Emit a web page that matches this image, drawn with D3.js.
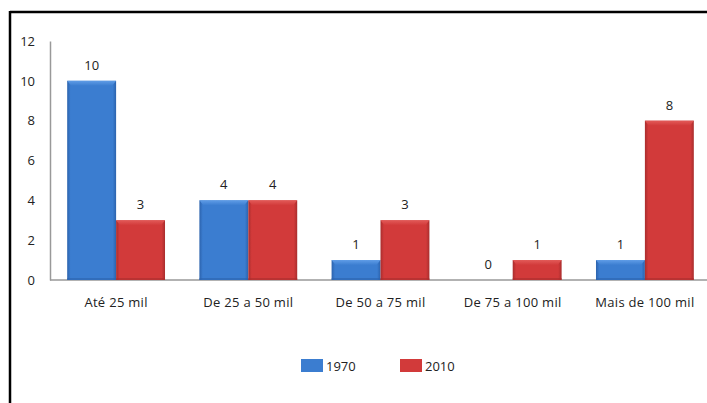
<!DOCTYPE html>
<html>
<head>
<meta charset="utf-8">
<script src="https://cdn.jsdelivr.net/npm/d3@7"></script>
<style>
  html, body { margin: 0; padding: 0; background: #fff; }
  svg { display: block; }
  text { font-family: "Open Sans", "Noto Sans", sans-serif; fill: #222; }
</style>
</head>
<body>
<svg id="chart" width="707" height="403"></svg>
<script>
// Faixas de população e número de municípios em cada ano
const categories = ["Até 25 mil", "De 25 a 50 mil", "De 50 a 75 mil", "De 75 a 100 mil", "Mais de 100 mil"];
const seriesNames = ["1970", "2010"];
const values1970 = [10, 4, 1, 0, 1];
const values2010 = [3, 4, 3, 1, 8];
const yTicks = [0, 2, 4, 6, 8, 10, 12];

const colors = {
  "1970": { base: "#3b7dd0", light: "#5f9ce6", dark: "#2c63ad" },
  "2010": { base: "#d23a3a", light: "#e25a58", dark: "#a92d2d" }
};

const svg = d3.select("#chart");
const W = 707, H = 403;

// Moldura: traço superior e esquerdo
svg.append("line").attr("x1", 10).attr("x2", W).attr("y1", 12).attr("y2", 12)
  .attr("stroke", "#000").attr("stroke-width", 2.5);
svg.append("line").attr("x1", 10).attr("x2", 10).attr("y1", 11).attr("y2", H)
  .attr("stroke", "#000").attr("stroke-width", 2.5);

const plot = { left: 50, right: 711, top: 41, bottom: 280 };

const x0 = d3.scaleBand().domain(categories).range([plot.left, plot.right]).paddingInner(0.26).paddingOuter(0.13);
const x1 = d3.scaleBand().domain(seriesNames).range([0, x0.bandwidth()]);
const y = d3.scaleLinear().domain([0, 12]).range([plot.bottom, plot.top]);

// Gradientes para o efeito de relevo das barras
const defs = svg.append("defs");
seriesNames.forEach(s => {
  const c = colors[s];
  const g = defs.append("linearGradient").attr("id", "grad-" + s).attr("x1", 0).attr("x2", 1).attr("y1", 0).attr("y2", 0);
  g.append("stop").attr("offset", "0%").attr("stop-color", c.dark);
  g.append("stop").attr("offset", "7%").attr("stop-color", c.base);
  g.append("stop").attr("offset", "93%").attr("stop-color", c.base);
  g.append("stop").attr("offset", "100%").attr("stop-color", c.dark);
  const t = defs.append("linearGradient").attr("id", "top-" + s).attr("x1", 0).attr("x2", 0).attr("y1", 0).attr("y2", 1);
  t.append("stop").attr("offset", "0%").attr("stop-color", c.light);
  t.append("stop").attr("offset", "100%").attr("stop-color", c.base);
});

const fontSize = "13px";

// Eixos
const yAxis = d3.axisLeft(y).tickValues(yTicks).tickSize(0).tickPadding(15);
const gy = svg.append("g").attr("transform", `translate(${plot.left},0)`).call(yAxis);
gy.select(".domain").attr("stroke", "#999").attr("stroke-width", 1.5);
gy.selectAll("text").style("font-size", fontSize).attr("fill", "#222");

const xAxis = d3.axisBottom(x0).tickSize(0).tickPadding(18);
const gx = svg.append("g").attr("transform", `translate(0,${plot.bottom})`).call(xAxis);
gx.select(".domain").attr("d", `M${plot.left},0H${W}`).attr("stroke", "#999").attr("stroke-width", 1.5);
gx.selectAll("text").style("font-size", fontSize).style("letter-spacing", "0.3px").attr("fill", "#222");

// Barras
const rows = categories.map((c, i) => ({ cat: c, vals: [
  { s: "1970", v: values1970[i] },
  { s: "2010", v: values2010[i] }
]}));

const groups = svg.append("g").selectAll("g").data(rows).join("g")
  .attr("transform", d => `translate(${x0(d.cat)},0)`);

const bars = groups.selectAll("g.bar").data(d => d.vals).join("g").attr("class", "bar");

bars.filter(d => d.v > 0).each(function(d) {
  const g = d3.select(this);
  const bx = x1(d.s), bw = x1.bandwidth();
  const by = y(d.v), bh = y(0) - y(d.v);
  const bev = Math.min(5, bh / 2);
  g.append("rect").attr("x", bx).attr("y", by).attr("width", bw).attr("height", bh)
    .attr("fill", `url(#grad-${d.s})`);
  g.append("path")
    .attr("d", `M${bx},${by}H${bx + bw}L${bx + bw - 4},${by + bev}H${bx + 4}Z`)
    .attr("fill", `url(#top-${d.s})`);
  g.append("rect").attr("x", bx).attr("y", y(0) - 2).attr("width", bw).attr("height", 2)
    .attr("fill", colors[d.s].dark).attr("opacity", 0.6);
});

// Rótulos de valor
bars.append("text")
  .attr("x", d => x1(d.s) + x1.bandwidth() / 2)
  .attr("y", d => y(d.v) - 11)
  .attr("text-anchor", "middle")
  .style("font-size", fontSize)
  .text(d => d.v);

// Legenda
const legend = svg.append("g");
const legendX = [301, 400];
seriesNames.forEach((s, i) => {
  const lg = legend.append("g").attr("transform", `translate(${legendX[i]},359)`);
  lg.append("rect").attr("width", 22).attr("height", 13).attr("fill", colors[s].base);
  lg.append("text").attr("x", 25).attr("y", 11.5).style("font-size", fontSize).text(s);
});
</script>
</body>
</html>
